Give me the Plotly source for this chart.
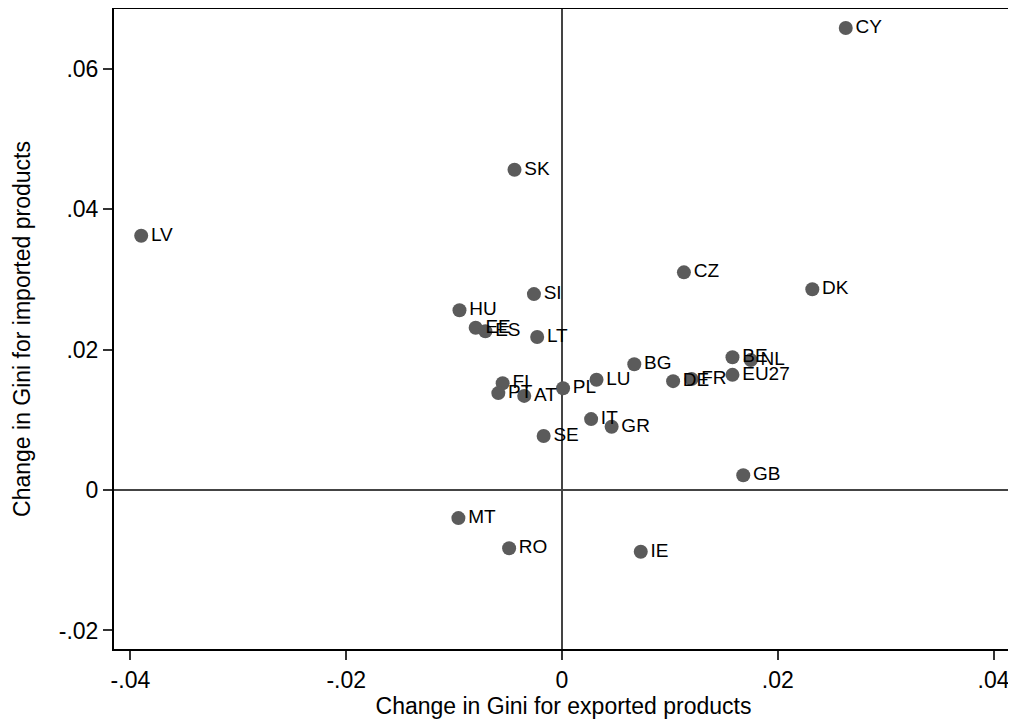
import plotly.graph_objects as go

countries = ["CY", "SK", "LV", "CZ", "DK", "SI", "HU", "EE", "ES", "LT",
             "FI", "PT", "AT", "PL", "LU", "BG", "DE", "FR", "BE", "NL",
             "EU27", "IT", "GR", "SE", "GB", "MT", "RO", "IE"]
export_change = [0.0263, -0.0044, -0.0390, 0.0113, 0.0232, -0.0026, -0.0095, -0.0080, -0.0071, -0.0023,
                 -0.0055, -0.0059, -0.0035, 0.0001, 0.0032, 0.0067, 0.0103, 0.0120, 0.0158, 0.0175,
                 0.0158, 0.0027, 0.0046, -0.0017, 0.0168, -0.0096, -0.0049, 0.0073]
import_change = [0.0658, 0.0456, 0.0362, 0.0310, 0.0286, 0.0279, 0.0256, 0.0231, 0.0226, 0.0218,
                 0.0152, 0.0138, 0.0134, 0.0145, 0.0157, 0.0179, 0.0155, 0.0158, 0.0189, 0.0185,
                 0.0164, 0.0101, 0.0090, 0.0077, 0.0021, -0.0040, -0.0083, -0.0088]

x_ticks = [-0.04, -0.02, 0, 0.02, 0.04]
x_tick_labels = ["-.04", "-.02", "0", ".02", ".04"]
y_ticks = [-0.02, 0, 0.02, 0.04, 0.06]
y_tick_labels = ["-.02", "0", ".02", ".04", ".06"]

FONT = "Liberation Sans, Arial, sans-serif"

fig = go.Figure(go.Scatter(
    x=export_change, y=import_change, text=countries,
    mode="markers+text", textposition="middle right",
    marker=dict(size=14, color="#5b5b5b"),
    textfont=dict(family=FONT, size=19, color="black"),
    cliponaxis=False, hoverinfo="text",
))

axis_common = dict(
    showgrid=False, showline=True, linecolor="black", linewidth=2, mirror=True,
    zeroline=True, zerolinecolor="#444444", zerolinewidth=1.5,
    ticks="outside", ticklen=9, tickwidth=1.5, tickcolor="#333333",
    tickfont=dict(family=FONT, size=23, color="black"),
    automargin=False,
)

fig.update_layout(
    width=1008, height=717,
    margin=dict(l=106, r=3, t=1, b=76),
    paper_bgcolor="white", plot_bgcolor="white",
    showlegend=False,
    xaxis=dict(range=[-0.04152, 0.0418], tickvals=x_ticks, ticktext=x_tick_labels,
               title=dict(text="Change in Gini for exported products", standoff=0,
                          font=dict(family=FONT, size=23, color="black")),
               **axis_common),
    yaxis=dict(range=[-0.02264, 0.0685], tickvals=y_ticks, ticktext=y_tick_labels,
               title=dict(text="Change in Gini for imported products", standoff=22,
                          font=dict(family=FONT, size=23, color="black")),
               **axis_common),
)

fig.write_html("out.html")
